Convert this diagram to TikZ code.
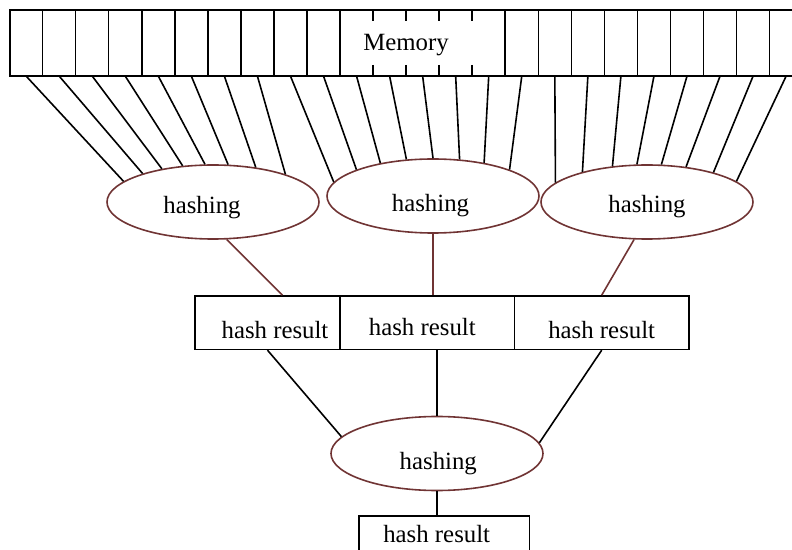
\documentclass[tikz,border=0pt]{standalone}
\usepackage{fontspec}
\setmainfont{Liberation Serif}
\usetikzlibrary{shapes.geometric}

\definecolor{hashred}{RGB}{112,52,52}

\begin{document}
\begin{tikzpicture}[
    x=0.5pt, y=-0.5pt,
    font=\fontsize{12.4}{14}\selectfont,
    line width=0.8pt,
    hashing/.style={draw=hashred, ellipse, minimum width=106pt, minimum height=37pt, inner sep=0pt},
    result/.style={draw, minimum height=26.7pt, inner sep=0pt},
    txt/.style={inner sep=0pt},
    hwire/.style={draw=hashred}
]
\useasboundingbox (0,0) rectangle (792,550);

% memory bar
\draw (10,10) rectangle (802.7,76);
\foreach \k in {1,...,10}
    \draw ({9.5+33.05*\k},10) -- ({9.5+33.05*\k},76);
\foreach \k in {15,...,23}
    \draw ({9.5+33.05*\k},10) -- ({9.5+33.05*\k},76);
\foreach \k in {11,...,14}
    \draw[dash pattern=on 5.5pt off 22pt] ({9.5+33.05*\k},10) -- ({9.5+33.05*\k},76);
\node[txt] (mem) at (406,45) {Memory};
\foreach \k in {1,...,24}
    \coordinate (m\k) at ({9.5+33.05*(\k-0.5)},76);

% hashing
\node[hashing] (h1) at (213,202) {};
\node[hashing] (h2) at (433,196) {};
\node[hashing] (h3) at (647,202) {};
\node[hashing] (h4) at (437,453.5) {};
\node[txt] (t1) at (202,207.5) {hashing};
\node[txt] (t2) at (430.5,205.8) {hashing};
\node[txt] (t3) at (647,206.7) {hashing};
\node[txt] (t4) at (438.3,463.3) {hashing};

\foreach \k/\a in {1/167,2/158,3/147,4/130,5/102,6/68,7/39,8/21}
    \draw (m\k) -- (h1.\a);
\foreach \k/\a in {9/172,10/161,11/148,12/126,13/90,14/54,15/33,16/19}
    \draw (m\k) -- (h2.\a);
\foreach \k/\a in {17/168,18/155,19/134,20/105,21/69,22/42,23/24,24/13}
    \draw (m\k) -- (h3.\a);

% hash results
\node[result, minimum width=72.5pt] (r1) at (267.5,322.7) {};
\node[result, minimum width=87.2pt] (r2) at (427.2,322.7) {};
\node[result, minimum width=87.3pt] (r3) at (601.7,322.7) {};
\node[result, minimum width=85.2pt] (r4) at (444.2,542.7) {};
\node[txt] (s1) at (275,330) {hash result};
\node[txt] (s2) at (422.3,327.3) {hash result};
\node[txt] (s3) at (601.7,330) {hash result};
\node[txt] (s4) at (436.7,533.8) {hash result};

\draw[hwire] (h1.290) -- ([xshift=7.5pt]r1.north);
\draw[hwire] (h2.south) -- (h2.south |- r2.north);
\draw[hwire] (h3.251) -- (r3.north);
\draw (r1.south) -- (h4.170);
\draw (h4.north) -- (h4.north |- r2.south);
\draw (r3.south) -- (h4.6);
\draw (h4.south) -- (h4.south |- r4.north);
\end{tikzpicture}
\end{document}
